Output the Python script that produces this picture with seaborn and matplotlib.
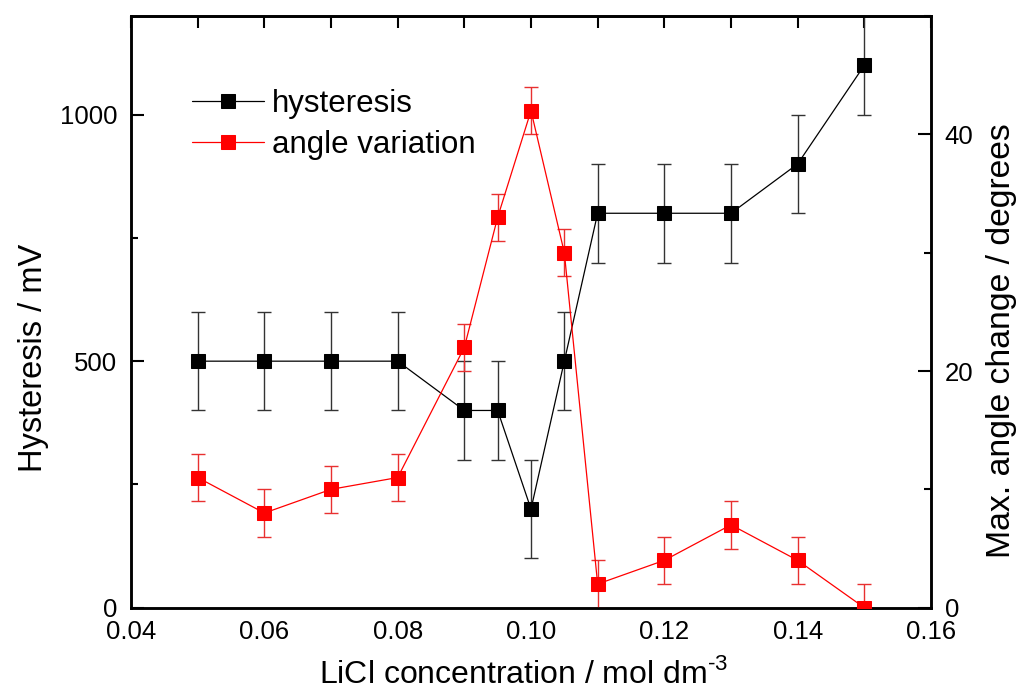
import numpy as np
import pandas as pd
import matplotlib
matplotlib.use("Agg")
import matplotlib.pyplot as plt
from matplotlib.ticker import MultipleLocator, FixedLocator
import seaborn as sns

# LiCl concentration (mol dm^-3)
concentration = [0.05, 0.06, 0.07, 0.08, 0.09, 0.095, 0.10, 0.105, 0.11, 0.12, 0.13, 0.14, 0.15]
# Hysteresis (mV) and its uncertainty
hysteresis = [500, 500, 500, 500, 400, 400, 200, 500, 800, 800, 800, 900, 1100]
hysteresis_err = [100] * 13
# Maximum contact-angle change (degrees) and its uncertainty
angle_change = [11, 8, 10, 11, 22, 33, 42, 30, 2, 4, 7, 4, 0]
angle_err = [2] * 13
# Labelled concentration ticks
x_ticks = [0.04, 0.06, 0.08, 0.10, 0.12, 0.14, 0.16]
x_tick_labels = ["0.04", "0.06", "0.08", "0.10", "0.12", "0.14", "0.16"]

df = pd.DataFrame({
    "conc": concentration,
    "hyst": hysteresis,
    "hyst_err": hysteresis_err,
    "angle": angle_change,
    "angle_err": angle_err,
})

sns.set_style("white")
plt.rcParams["font.family"] = ["Liberation Sans", "DejaVu Sans"]
plt.rcParams["mathtext.fontset"] = "custom"
plt.rcParams["mathtext.rm"] = "Liberation Sans"
plt.rcParams["text.color"] = "black"
plt.rcParams["axes.labelcolor"] = "black"
plt.rcParams["xtick.color"] = "black"
plt.rcParams["ytick.color"] = "black"

fig = plt.figure(figsize=(10.19, 6.98), dpi=100)
ax = fig.add_axes([0.1286, 0.1294, 0.785, 0.8476])
ax2 = ax.twinx()

black = "#000000"
red = "#ff0000"

# Hysteresis series (left axis)
ax.errorbar(df["conc"], df["hyst"], yerr=df["hyst_err"], fmt="none",
            ecolor="#333333", elinewidth=1.0, capsize=5, capthick=1.0, zorder=2)
sns.lineplot(data=df, x="conc", y="hyst", ax=ax, color=black, marker="s",
             markersize=9.5, markeredgecolor=black, linewidth=0.9,
             label="hysteresis", legend=False, zorder=3)

# Angle variation series (right axis)
ax2.errorbar(df["conc"], df["angle"], yerr=df["angle_err"], fmt="none",
             ecolor="#e83030", elinewidth=1.0, capsize=5, capthick=1.0, zorder=2)
sns.lineplot(data=df, x="conc", y="angle", ax=ax2, color=red, marker="s",
             markersize=9.5, markeredgecolor=red, linewidth=0.9,
             label="angle variation", legend=False, zorder=3)

ax.xaxis.set_major_locator(FixedLocator(x_ticks))
ax.set_xticklabels(x_tick_labels)
ax.xaxis.set_minor_locator(MultipleLocator(0.01))
ax.yaxis.set_major_locator(MultipleLocator(500))
ax.yaxis.set_minor_locator(MultipleLocator(250))
ax2.yaxis.set_major_locator(MultipleLocator(20))
ax2.yaxis.set_minor_locator(MultipleLocator(10))

ax.set_xlim(0.04, 0.16)
ax.set_ylim(0, 1200)
ax2.set_ylim(0, 50)

ax.tick_params(axis="x", which="major", direction="in", length=9.5, width=1.5,
               labelsize=18.5, pad=9, top=False)
ax.tick_params(axis="y", which="major", direction="in", length=9.5, width=1.5,
               labelsize=18.5, pad=10, right=False)
ax.tick_params(axis="both", which="minor", direction="in", length=5, width=1.5,
               top=False, right=False)
ax2.tick_params(axis="y", which="major", direction="in", length=9.5, width=1.5,
                labelsize=18.5, pad=10)
ax2.tick_params(axis="y", which="minor", direction="in", length=5, width=1.5)

# Top edge: evenly spaced unlabeled ticks
top = ax.secondary_xaxis("top")
top.set_xticks(np.arange(0.04, 0.1601, 0.01))
top.tick_params(direction="in", length=8.5, width=1.5, labeltop=False)

for a in (ax, ax2):
    for s in a.spines.values():
        s.set_linewidth(1.8)
        s.set_color("black")
top.spines["top"].set_linewidth(1.8)

ax.set_xlabel(r"LiCl concentration / mol dm$^{\text{-3}}$", fontsize=23, labelpad=10)
ax.xaxis.label.set_x(0.49)
ax.set_ylabel("Hysteresis / mV", fontsize=23.5, labelpad=8)
ax.yaxis.label.set_y(0.423)
ax2.set_ylabel("Max. angle change / degrees", fontsize=24.3, labelpad=9)
ax2.yaxis.label.set_y(0.452)

h1, l1 = ax.get_legend_handles_labels()
h2, l2 = ax2.get_legend_handles_labels()
leg = ax2.legend(h1 + h2, l1 + l2, loc="upper left", bbox_to_anchor=(0.061, 0.898),
                 frameon=False, fontsize=22.5, handlelength=2.3, handletextpad=0.25,
                 labelspacing=0.35, borderaxespad=0)

fig.savefig("out.png", dpi=100)
